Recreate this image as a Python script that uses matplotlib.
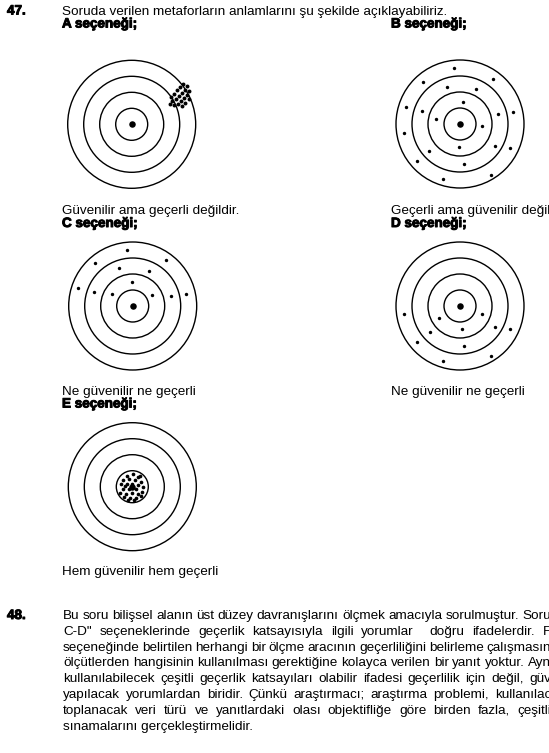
# Hedef tahtası metaforları (soru 47) ve soru 48 açıklaması

import matplotlib.pyplot as plt
import matplotlib.patheffects as pe
from matplotlib.patches import Circle

plt.rcParams['font.family'] = ['Liberation Sans', 'DejaVu Sans']

# --- metinler ---
q47_num = '47.'
q47_text = 'Soruda verilen metaforların anlamlarını şu şekilde açıklayabiliriz.'
headings = ['A seçeneği;', 'B seçeneği;', 'C seçeneği;', 'D seçeneği;', 'E seçeneği;']
captions = ['Güvenilir ama geçerli değildir.', 'Geçerli ama güvenilir değil',
            'Ne güvenilir ne geçerli', 'Ne güvenilir ne geçerli',
            'Hem güvenilir hem geçerli']
q48_num = '48.'
q48_lines = [
    'Bu soru bilişsel alanın üst düzey davranışlarını ölçmek amacıyla sorulmuştur. Soru',
    'C-D" seçeneklerinde geçerlik katsayısıyla ilgili yorumlar  doğru ifadelerdir. F',
    'seçeneğinde belirtilen herhangi bir ölçme aracının geçerliliğini belirleme çalışmasın',
    'ölçütlerden hangisinin kullanılması gerektiğine kolayca verilen bir yanıt yoktur. Ayn',
    'kullanılabilecek çeşitli geçerlik katsayıları olabilir ifadesi geçerlilik için değil, güv',
    'yapılacak yorumlardan biridir. Çünkü araştırmacı; araştırma problemi, kullanılac',
    'toplanacak veri türü ve yanıtlardaki olası objektifliğe göre birden fazla, çeşitli',
    'sınamalarını gerçekleştirmelidir.',
]

# --- atış noktaları (merkeze göre, piksel) ---
ring_radii = [16, 32, 48, 64]

shots_a_dx = [51, 55, 48, 53, 45, 57, 50, 42, 55, 47, 39, 52, 44, 57, 49, 40, 53, 46, 42, 50, 38]
shots_a_dy = [-40, -38, -37, -34, -34, -33, -31, -30, -29, -28, -27, -26, -25, -25, -23, -23, -21, -20, -19, -18, -20]

shots_b_dx = [-6, -37.3, 33.3, -13.3, 16.3, 3.3, -54, -38.3, 38.3, 53.3, -24, 22.3,
              -56, -0.7, 34.7, 50.3, -30.7, -42.7, 4.3, -16.7, 30.7]
shots_b_dy = [-55.7, -42.3, -45, -37.3, -34.7, -22.3, -17.3, -13, -10, -12, -5.3, 2,
              8.7, 22.7, 22, 23.7, 26.7, 36.7, 40, 55.3, 50.7]

shots_c_dx = [-6, -37.7, 33.3, -13.7, 16, -1, -54.3, -38.3, -21, 19.7, 38, 53.3]
shots_c_dy = [-56, -42.7, -45.7, -37.7, -35, -23.7, -17.7, -13.7, -12, -11.3, -10.3, -12.3]

shots_d_dx = [-56, -20.7, 21.7, 2, 34.7, 50.3, -30.3, -42.7, 4.3, -16.7, 30.7]
shots_d_dy = [8, 11.7, 7.7, 23.3, 21.3, 23, 26.3, 36, 39.7, 54.7, 49.7]

shots_e_dx = [-5, 0.3, 5.7, -9, -3, 3, 9, -11.7, -5.7, 6, 11, -9.7, -3, 3.7, 9.3,
              -12, -6.3, -0.3, 5.7, -8.3, -2.3, 3.7, 8.5, -4, 1.7, 0, -7, 7.5]
shots_e_dy = [-11, -12.3, -10, -6.7, -7.7, -6.7, -5, -2.3, -3, -1.7, 0, 2.3, 2.3, 2.3, 5,
              6, 7.7, 6.7, 7.7, 10.5, 11.7, 11.7, 9.5, 13, 13, -3, -1, -11]

shots = [(shots_a_dx, shots_a_dy), (shots_b_dx, shots_b_dy), (shots_c_dx, shots_c_dy),
         (shots_d_dx, shots_d_dy), (shots_e_dx, shots_e_dy)]
shot_sizes = [8, 6, 6, 6, 7]

# --- yerleşim ---
centers = [(131.7, 124.3), (460, 124), (132.7, 306), (460, 306), (132.3, 486.7)]
col_x = [62, 391, 62, 391, 62]
head_y = [27.5, 27.5, 227, 227, 407.5]
cap_y = [214, 214, 394.5, 394.5, 575.5]
fs = 9.7
heavy = [pe.withStroke(linewidth=0.7, foreground='black')]

fig = plt.figure(figsize=(5.49, 7.53), dpi=100)
ax = fig.add_axes([0, 0, 1, 1])
ax.set_xlim(0, 549)
ax.set_ylim(753, 0)
ax.axis('off')

ax.text(7, 14.5, q47_num, fontsize=fs, fontweight='bold', path_effects=heavy)
ax.text(62, 14.5, q47_text, fontsize=fs)

for i, (cx, cy) in enumerate(centers):
    for r in ring_radii:
        ax.add_patch(Circle((cx, cy), r, fill=False, lw=1.0, ec='black'))
    ax.scatter([cx], [cy], s=22, c='black', lw=0)
    dx, dy = shots[i]
    ax.scatter([cx + v for v in dx], [cy + v for v in dy], s=shot_sizes[i], c='black', lw=0)
    ax.text(col_x[i], head_y[i], headings[i], fontsize=fs, fontweight='bold', path_effects=heavy)
    ax.text(col_x[i], cap_y[i], captions[i], fontsize=fs)

# iki yana yaslanmış paragraf
fig.canvas.draw()
renderer = fig.canvas.get_renderer()
ax.text(7, 619, q48_num, fontsize=fs, fontweight='bold', path_effects=heavy)
left, right = 63, 551
for k, line in enumerate(q48_lines):
    y = 619 + k * 15.8
    if k == len(q48_lines) - 1:
        ax.text(left, y, line, fontsize=fs)
        continue
    words = line.split(' ')
    objs = [ax.text(0, y, w, fontsize=fs) for w in words]
    widths = [o.get_window_extent(renderer).width for o in objs]
    gap = (right - left - sum(widths)) / (len(words) - 1)
    x = left
    for o, w in zip(objs, widths):
        o.set_x(x)
        x += w + gap

fig.savefig('out.png', dpi=100, facecolor='white')
